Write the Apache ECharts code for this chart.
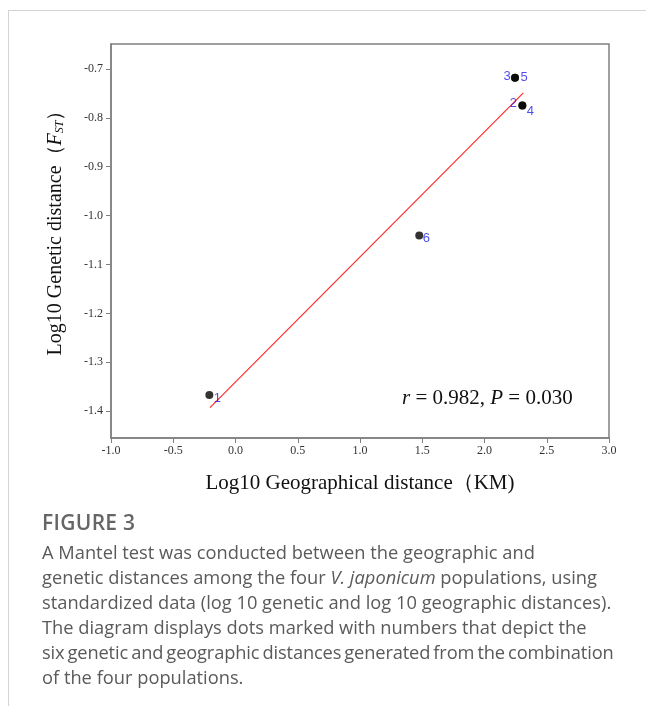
<!DOCTYPE html>
<html>
<head>
<meta charset="utf-8">
<script src="https://cdn.jsdelivr.net/npm/echarts@6/dist/echarts.min.js"></script>
<style>
  html, body { margin: 0; padding: 0; background: #fff; }
  #wrap { position: relative; width: 646px; height: 706px; overflow: hidden; }
  #frame { position: absolute; left: 8px; top: 10px; width: 700px; height: 720px;
           border-left: 1px solid #d4d4d4; border-top: 1px solid #d4d4d4; }
  #chart { position: absolute; left: 0; top: 0; width: 646px; height: 706px; }
  #caption { position: absolute; left: 42px; top: 510px; width: 600px;
             font-family: "Open Sans", sans-serif; color: #5a5a5a; font-size: 18.3px;
             line-height: 25px; white-space: nowrap; }
  #caption .fig { font-weight: 600; color: #666; font-size: 21px; margin-bottom: 4px; letter-spacing: 0.3px; }
  #caption .tight { word-spacing: -1.5px; letter-spacing: -0.15px; }
</style>
</head>
<body>
<div id="wrap">
  <div id="frame"></div>
  <div id="chart"></div>
  <div id="caption">
    <div class="fig">FIGURE 3</div>
    A Mantel test was conducted between the geographic and<br>
    genetic distances among the four <i>V. japonicum</i> populations, using<br>
    standardized data (log 10 genetic and log 10 geographic distances).<br>
    The diagram displays dots marked with numbers that depict the<br>
    <span class="tight">six genetic and geographic distances generated from the combination</span><br>
    of the four populations.
  </div>
</div>
<script>
  // pairwise distances (log10)
  const pairNames = ['1', '2', '3', '4', '5', '6']
  const geoDist = [-0.21, 2.304, 2.245, 2.304, 2.245, 1.476]
  const genDist = [-1.367, -0.775, -0.718, -0.775, -0.718, -1.041]
  // fitted line end points
  const fitX = [-0.205, 2.312]
  const fitY = [-1.393, -0.749]
  const yTicks = [-1.4, -1.3, -1.2, -1.1, -1.0, -0.9, -0.8, -0.7]

  // where each number sits relative to its dot
  const labelOffset = {
    '1': [8, 3], '2': [-9, -2], '3': [-8, -1], '4': [8, 6], '5': [9, 0], '6': [7, 3]
  }

  const myChart = echarts.init(document.getElementById('chart'))
  const serif = '"Liberation Serif", "DejaVu Serif", serif'

  const points = pairNames.map((n, i) => ({
    value: [geoDist[i], genDist[i]],
    label: {
      show: true,
      formatter: n,
      position: 'inside',
      offset: labelOffset[n]
    }
  }))

  const option = {
    animation: false,
    grid: {
      left: 111, right: 37, top: 44, bottom: 268,
      show: true, borderColor: '#808080', borderWidth: 1.5
    },
    title: {
      text: '{i|r} = 0.982, {i|P} = 0.030',
      left: 397, top: 383,
      textStyle: {
        fontFamily: serif, fontSize: 21, fontWeight: 'normal', color: '#111',
        rich: { i: { fontFamily: serif, fontSize: 21, fontStyle: 'italic', color: '#111' } }
      }
    },
    xAxis: {
      type: 'value',
      min: -1, max: 3, interval: 0.5,
      name: 'Log10 Geographical distance（KM)',
      nameLocation: 'middle', nameGap: 35,
      nameTextStyle: { fontFamily: serif, fontSize: 21, color: '#111' },
      axisLine: { show: true, onZero: false, lineStyle: { color: '#808080', width: 1.5 } },
      axisTick: { show: true, length: 5, lineStyle: { color: '#808080' } },
      axisLabel: {
        fontFamily: serif, fontSize: 12, color: '#333', margin: 7,
        formatter: v => v.toFixed(1)
      },
      splitLine: { show: false }
    },
    yAxis: {
      type: 'value',
      min: -1.455, max: -0.649,
      name: '{a|Log10 Genetic distance（}{i|F}{s|ST}{a|）}',
      nameLocation: 'middle', nameGap: 45, nameRotate: 90,
      nameTextStyle: {
        padding: [0, 0, 0, 26],
        rich: {
          a: { fontFamily: serif, fontSize: 20, color: '#111' },
          i: { fontFamily: serif, fontSize: 20, fontStyle: 'italic', color: '#111' },
          s: { fontFamily: serif, fontSize: 12, fontStyle: 'italic', color: '#111', padding: [8, 0, 0, 0] }
        }
      },
      axisLine: { show: true, onZero: false, lineStyle: { color: '#808080', width: 1.5 } },
      axisTick: { show: true, length: 5, customValues: yTicks, lineStyle: { color: '#808080' } },
      axisLabel: {
        fontFamily: serif, fontSize: 12, color: '#333', margin: 8,
        customValues: yTicks,
        formatter: v => v.toFixed(1)
      },
      splitLine: { show: false }
    },
    series: [
      {
        name: 'fit',
        type: 'line',
        data: fitX.map((x, i) => [x, fitY[i]]),
        symbol: 'none',
        lineStyle: { color: '#ff2a2a', width: 1.2 },
        z: 2
      },
      {
        name: 'pairs',
        type: 'scatter',
        data: points,
        symbolSize: 8,
        itemStyle: { color: '#000' },
        label: {
          fontFamily: 'Arial, "Liberation Sans", sans-serif',
          fontSize: 13, color: '#1f1fe8'
        },
        z: 3
      }
    ]
  }
  myChart.setOption(option)
</script>
</body>
</html>
